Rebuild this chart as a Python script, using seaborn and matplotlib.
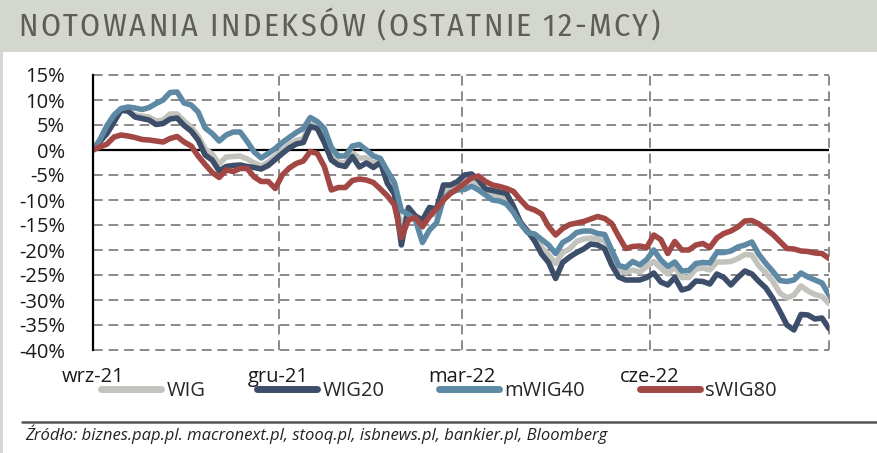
import numpy as np
import pandas as pd
import matplotlib
matplotlib.use("Agg")
import matplotlib.pyplot as plt
import seaborn as sns
from matplotlib.patches import Rectangle
from matplotlib.lines import Line2D
from matplotlib import font_manager as fm

# ---------------- data ----------------
series_names = ["WIG", "WIG20", "mWIG40", "sWIG80"]
start_date = "2021-09-01"
end_date = "2022-08-28"

wig = [0, 1.9, 3.8, 6.0, 7.8, 7.8, 7.0, 6.8, 6.6, 5.8, 6.0, 7.2, 7.2, 5.8, 4.6, 2.8, 0.2, -0.8, -2.8, -1.4,
       -1.3, -1.2, -1.8, -2.6, -3.2, -2.4, -1.2, 0.0, 1.1, 1.9, 2.3, 5.2, 4.8, 2.3, -1.2, -2.4, -2.6, -0.6, -1.6, -1.6,
       -2.6, -2.2, -5.8, -8.0, -16.0, -12.0, -13.6, -15.5, -13.0, -12.8, -8.2, -7.7, -7.0, -6.2, -5.8, -6.8, -8.2, -8.8, -9.1, -9.6,
       -11.8, -14.6, -16.3, -17.5, -19.5, -21.0, -22.7, -20.5, -19.8, -18.3, -17.8, -17.6, -17.8, -18.2, -21.5, -24.0, -24.5, -24.0, -24.4, -23.3,
       -22.3, -23.6, -24.8, -23.3, -25.5, -25.5, -23.8, -23.6, -24.0, -22.4, -22.4, -22.3, -21.7, -20.9, -21.0, -23.2, -24.6, -26.3, -28.6, -29.6,
       -29.0, -27.2, -28.2, -28.9, -29.3, -30.7]

wig20 = [0, 1.7, 3.3, 5.6, 8.0, 7.8, 6.6, 6.3, 6.0, 5.1, 5.3, 6.2, 6.4, 4.9, 3.8, 2.0, -1.0, -2.0, -4.2, -3.3,
         -3.1, -3.0, -3.3, -3.5, -3.8, -3.1, -1.9, -0.7, 0.4, 1.2, 1.5, 4.7, 4.3, 1.5, -2.0, -3.0, -3.3, -1.3, -3.4, -2.6,
         -3.5, -2.5, -6.7, -8.8, -19.0, -11.5, -13.2, -14.0, -11.5, -11.8, -7.0, -7.0, -6.3, -5.0, -4.8, -6.0, -7.8, -8.1, -8.4, -8.7,
         -11.3, -14.5, -16.2, -18.2, -20.8, -22.5, -25.7, -22.5, -21.4, -20.5, -19.8, -18.8, -19.0, -19.8, -23.0, -25.4, -26.0, -26.0, -26.0, -25.5,
         -24.6, -26.4, -27.0, -25.5, -28.0, -27.6, -26.2, -26.3, -26.8, -24.8, -25.5, -27.0, -25.5, -24.2, -24.8, -26.3, -27.6, -29.7, -32.3, -35.0,
         -36.0, -32.9, -33.0, -33.8, -33.6, -35.7]

mwig40 = [0, 2.1, 4.9, 7.0, 8.3, 8.6, 8.4, 8.1, 8.5, 9.3, 10.0, 11.5, 11.6, 9.4, 9.0, 7.6, 4.4, 3.3, 1.8, 3.0,
          3.6, 3.6, 1.7, -0.4, -1.6, -0.7, 0.3, 1.5, 2.5, 3.5, 4.3, 6.5, 5.7, 4.3, 0.5, -1.2, -1.2, 0.8, 1.1, 0.0,
          -1.2, -1.7, -4.2, -6.5, -12.1, -12.9, -14.0, -18.5, -16.0, -14.6, -9.8, -8.5, -8.0, -7.9, -7.2, -8.0, -9.0, -10.0, -10.2, -10.8,
          -12.5, -14.8, -16.5, -16.8, -17.9, -19.0, -20.7, -18.5, -17.7, -16.5, -16.2, -16.2, -16.7, -16.9, -20.0, -23.1, -23.5, -22.3, -23.0, -21.9,
          -20.0, -22.0, -23.3, -22.4, -24.2, -24.1, -22.7, -22.5, -22.6, -20.5, -20.5, -20.2, -19.4, -19.0, -18.4, -20.9, -22.7, -24.3, -26.1, -26.3,
          -26.0, -24.6, -25.4, -26.0, -26.6, -29.0]

swig80 = [0, 0.6, 1.2, 2.6, 3.0, 2.8, 2.5, 2.1, 2.0, 1.8, 1.6, 2.3, 2.7, 1.6, 0.8, -1.2, -2.9, -4.5, -5.5, -4.0,
          -4.3, -3.7, -3.7, -5.4, -6.3, -6.3, -7.7, -5.0, -3.6, -2.7, -2.2, -0.3, -0.7, -3.3, -8.0, -7.5, -7.5, -6.1, -5.8, -6.0,
          -6.5, -7.8, -9.2, -11.0, -17.5, -14.0, -13.5, -15.3, -13.3, -11.8, -10.0, -8.7, -7.7, -6.7, -5.6, -5.2, -6.3, -7.0, -7.3, -7.7,
          -8.3, -10.0, -11.5, -12.0, -12.8, -15.3, -17.0, -15.7, -14.9, -14.6, -14.3, -13.8, -13.3, -13.7, -14.7, -17.3, -19.7, -19.3, -19.2, -19.5,
          -17.0, -17.9, -20.7, -18.3, -20.0, -20.0, -19.0, -18.7, -19.5, -17.6, -16.7, -16.2, -15.4, -14.2, -14.1, -14.8, -15.8, -16.9, -18.3, -19.7,
          -19.8, -20.2, -20.3, -20.6, -20.7, -21.7]

tick_dates = ["2021-09-01", "2021-12-01", "2022-03-01", "2022-06-01"]
tick_labels = ["wrz-21", "gru-21", "mar-22", "cze-22"]
y_ticks = list(range(-40, 20, 5))

title_text = "NOTOWANIA INDEKSÓW (OSTATNIE 12-MCY)"
source_text = "Źródło: biznes.pap.pl. macronext.pl, stooq.pl, isbnews.pl, bankier.pl, Bloomberg"

colors = {"WIG": "#c3c3be", "WIG20": "#3d4e6a", "mWIG40": "#5d89a5", "sWIG80": "#a24744"}

# ---------------- frame ----------------
dates = pd.date_range(start_date, end_date, periods=len(wig))
df = pd.DataFrame({"date": dates, "WIG": wig, "WIG20": wig20, "mWIG40": mwig40, "sWIG80": swig80})
long = df.melt(id_vars="date", var_name="index", value_name="value")

sns.set_style("white")
avail = {f.name for f in fm.fontManager.ttflist}
def pick(prefs):
    return next((p for p in prefs if p in avail), "DejaVu Sans")
main_font = pick(["Open Sans", "Roboto", "Liberation Sans"])
title_font = pick(["Fira Sans Condensed", "Open Sans", "Liberation Sans"])
plt.rcParams["font.family"] = [main_font, "DejaVu Sans"]

W, H = 877, 453
fig = plt.figure(figsize=(W / 100, H / 100), dpi=100)
fig.patch.set_facecolor("white")

# title band
fig.add_artist(Rectangle((0, 1 - 52 / H), 1, 52 / H, transform=fig.transFigure,
                         facecolor="#d4d6d0", edgecolor="none", zorder=0))
fig.add_artist(Rectangle((0, 0), 3 / W, 1, transform=fig.transFigure,
                         facecolor="#d4d6d0", edgecolor="none", zorder=0))

# title with letter spacing (tracking) to span the reference width
renderer = fig.canvas.get_renderer()
t_kw = dict(fontsize=23, color="#5e5e58", va="baseline", ha="left",
            family=[title_font, "DejaVu Sans"], fontweight="normal")
widths = []
for ch in title_text:
    if ch == " ":
        widths.append(t_kw["fontsize"] * 0.22 * 100 / 72)
        continue
    t = fig.text(0, 0, ch, **t_kw)
    widths.append(t.get_window_extent(renderer).width)
    t.remove()
x_left, x_right = 18.0, 660.0
track = (x_right - x_left - sum(widths)) / (len(title_text) - 1)
xc = x_left
for ch, w in zip(title_text, widths):
    if ch != " ":
        fig.text(xc / W, 1 - 36 / H, ch, **t_kw)
    xc += w + track

ax = fig.add_axes([93 / W, 1 - 350 / H, 736 / W, 275 / H])
sns.lineplot(data=long, x="date", y="value", hue="index", hue_order=series_names,
             palette=colors, linewidth=4.0, ax=ax, legend=True, zorder=3)
for ln in ax.get_lines():
    ln.set_solid_capstyle("round")
    ln.set_solid_joinstyle("round")

xmin, xmax = pd.Timestamp(start_date), pd.Timestamp(end_date)
ax.set_xlim(xmin, xmax)
ax.set_ylim(-40, 15)
ax.set_yticks(y_ticks)
ax.set_yticklabels([f"{v}%" for v in y_ticks])
ax.set_xticks(pd.to_datetime(tick_dates))
ax.set_xticklabels(tick_labels)
ax.set_xlabel("")
ax.set_ylabel("")
ax.tick_params(axis="both", length=0, labelsize=14.5, colors="#1a1a1a")
ax.tick_params(axis="y", pad=20)
ax.tick_params(axis="x", pad=12)

grid_kw = dict(color="#8a8a8a", linewidth=1.4, linestyle=(0, (5, 3)))
for v in y_ticks:
    if v != 0:
        ax.axhline(v, zorder=1, clip_on=False, **grid_kw)
for d in tick_dates[1:]:
    ax.axvline(pd.Timestamp(d), zorder=1, **grid_kw)
ax.axvline(xmax, zorder=1, clip_on=False, **grid_kw)
ax.axhline(0, color="black", linewidth=1.6, zorder=2)

for s in ["top", "right", "bottom"]:
    ax.spines[s].set_visible(False)
ax.spines["left"].set_color("black")
ax.spines["left"].set_linewidth(1.6)
ax.spines["left"].set_zorder(4)

# legend: one entry per legend so each sits at the reference position
handles, labels = ax.get_legend_handles_labels()
ax.get_legend().remove()
legend_x = [101, 257, 439, 640]
for h, l, lx in zip(handles, labels, legend_x):
    lg = fig.legend([h], [l], loc="upper left", bbox_to_anchor=(lx / W, 1 - 381 / H),
                    frameon=False, fontsize=14.5, handlelength=3.0, handletextpad=0.25,
                    borderpad=0, borderaxespad=0)
    for lh in lg.get_lines():
        lh.set_linewidth(5)
        lh.set_solid_capstyle("round")

# separator + source
fig.add_artist(Line2D([22 / W, 1], [1 - 422 / H, 1 - 422 / H], transform=fig.transFigure,
                      color="#555555", linewidth=1.8))
fig.text(25 / W, 1 - 434 / H, source_text, fontsize=12, style="italic",
         color="#222222", va="center", ha="left")

fig.savefig("out.png", dpi=100)
